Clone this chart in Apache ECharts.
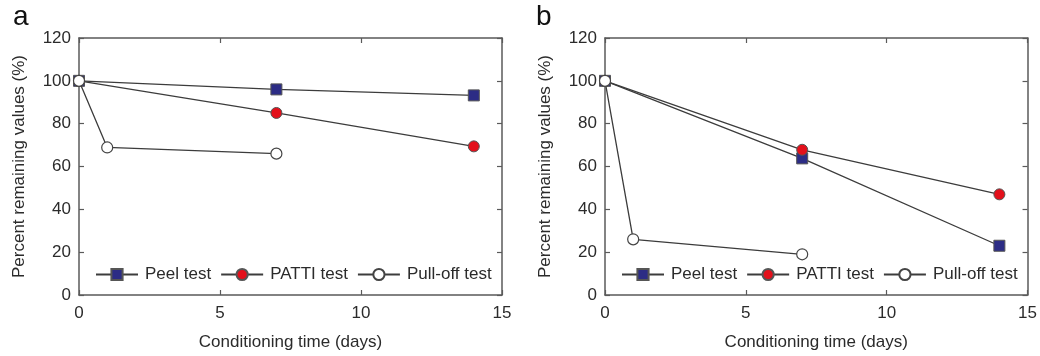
<!DOCTYPE html>
<html>
<head>
<meta charset="utf-8">
<script src="https://cdn.jsdelivr.net/npm/echarts@6/dist/echarts.min.js"></script>
<style>
	html, body { margin: 0; padding: 0; background: #fff; }
	#chart { width: 1040px; height: 356px; }
</style>
</head>
<body>
<div id="chart"></div>
<script>
// panel a
const peelA = [[0, 100], [7, 96], [14, 93.2]]
const pattiA = [[0, 100], [7, 85], [14, 69.4]]
const pullA = [[0, 100], [1, 68.9], [7, 66]]
// panel b
const peelB = [[0, 100], [7, 63.8], [14, 23]]
const pattiB = [[0, 100], [7, 67.8], [14, 47]]
const pullB = [[0, 100], [1, 26], [7, 19]]

const seriesNames = ['Peel test', 'PATTI test', 'Pull-off test']
const panelLabels = ['a', 'b']
const xTitle = 'Conditioning time (days)'
const yTitle = 'Percent remaining values (%)'

const font = 'Liberation Sans, Arial, sans-serif'
const textColor = '#2b2b2b'
const axisColor = '#5a5a5a'
const lineColor = '#3c3c3c'

const grids = [
	{ left: 79, right: 538, top: 38, bottom: 61 },
	{ left: 605, right: 12, top: 38, bottom: 61 }
]

function xAxes(gi) {
	const base = {
		gridIndex: gi,
		type: 'value',
		min: 0,
		max: 15,
		interval: 5,
		splitLine: { show: false },
		axisLine: { onZero: false, lineStyle: { color: axisColor, width: 1.5 } },
		axisTick: { inside: true, length: 5, lineStyle: { color: axisColor, width: 1.2 } }
	}
	return [
		{
			...base,
			position: 'bottom',
			name: xTitle,
			nameLocation: 'middle',
			nameGap: 39,
			nameTextStyle: { fontFamily: font, fontSize: 17, color: textColor },
			axisLabel: { margin: 10, fontFamily: font, fontSize: 17, color: textColor }
		},
		{ ...base, position: 'top', axisLabel: { show: false } }
	]
}

function yAxes(gi) {
	const base = {
		gridIndex: gi,
		type: 'value',
		min: 0,
		max: 120,
		interval: 20,
		splitLine: { show: false },
		axisLine: { show: true, onZero: false, lineStyle: { color: axisColor, width: 1.5 } },
		axisTick: { show: true, inside: true, length: 5, lineStyle: { color: axisColor, width: 1.2 } }
	}
	return [
		{
			...base,
			position: 'left',
			name: yTitle,
			nameLocation: 'middle',
			nameGap: 51,
			nameTextStyle: { fontFamily: font, fontSize: 17, color: textColor },
			axisLabel: { margin: 8, fontFamily: font, fontSize: 17, color: textColor }
		},
		{ ...base, position: 'right', axisLabel: { show: false } }
	]
}

const markerStyles = [
	{ symbol: 'rect', symbolSize: 11, itemStyle: { color: '#2c2c85', borderColor: '#555', borderWidth: 1 } },
	{ symbol: 'circle', symbolSize: 11, itemStyle: { color: '#e3101b', borderColor: '#555', borderWidth: 1 } },
	{ symbol: 'circle', symbolSize: 11, itemStyle: { color: '#ffffff', borderColor: '#444', borderWidth: 1.2 } }
]

function makeSeries(gi, datasets) {
	return datasets.map((d, i) => ({
		name: seriesNames[i],
		type: 'line',
		xAxisIndex: gi * 2,
		yAxisIndex: gi * 2,
		data: d,
		...markerStyles[i],
		showSymbol: true,
		lineStyle: { color: lineColor, width: 1.3 },
		emphasis: { disabled: true },
		z: 2 + i
	}))
}

function makeLegend(left) {
	return {
		data: seriesNames,
		left: left,
		top: 261,
		orient: 'horizontal',
		itemWidth: 42,
		itemHeight: 14,
		itemGap: 9,
		selectedMode: false,
		textStyle: { fontFamily: font, fontSize: 17, color: textColor, padding: [0, 0, 0, 2] }
	}
}

const chart = echarts.init(document.getElementById('chart'), null, { renderer: 'canvas' })

chart.setOption({
	animation: false,
	backgroundColor: '#fff',
	title: panelLabels.map((t, i) => ({
		text: t,
		left: i === 0 ? 8 : 531,
		top: -2,
		textStyle: { fontFamily: font, fontSize: 28, fontWeight: 'normal', color: '#111' }
	})),
	grid: grids,
	xAxis: [...xAxes(0), ...xAxes(1)],
	yAxis: [...yAxes(0), ...yAxes(1)],
	legend: [makeLegend(90), makeLegend(616)],
	series: [
		...makeSeries(0, [peelA, pattiA, pullA]),
		...makeSeries(1, [peelB, pattiB, pullB])
	]
})
</script>
</body>
</html>
